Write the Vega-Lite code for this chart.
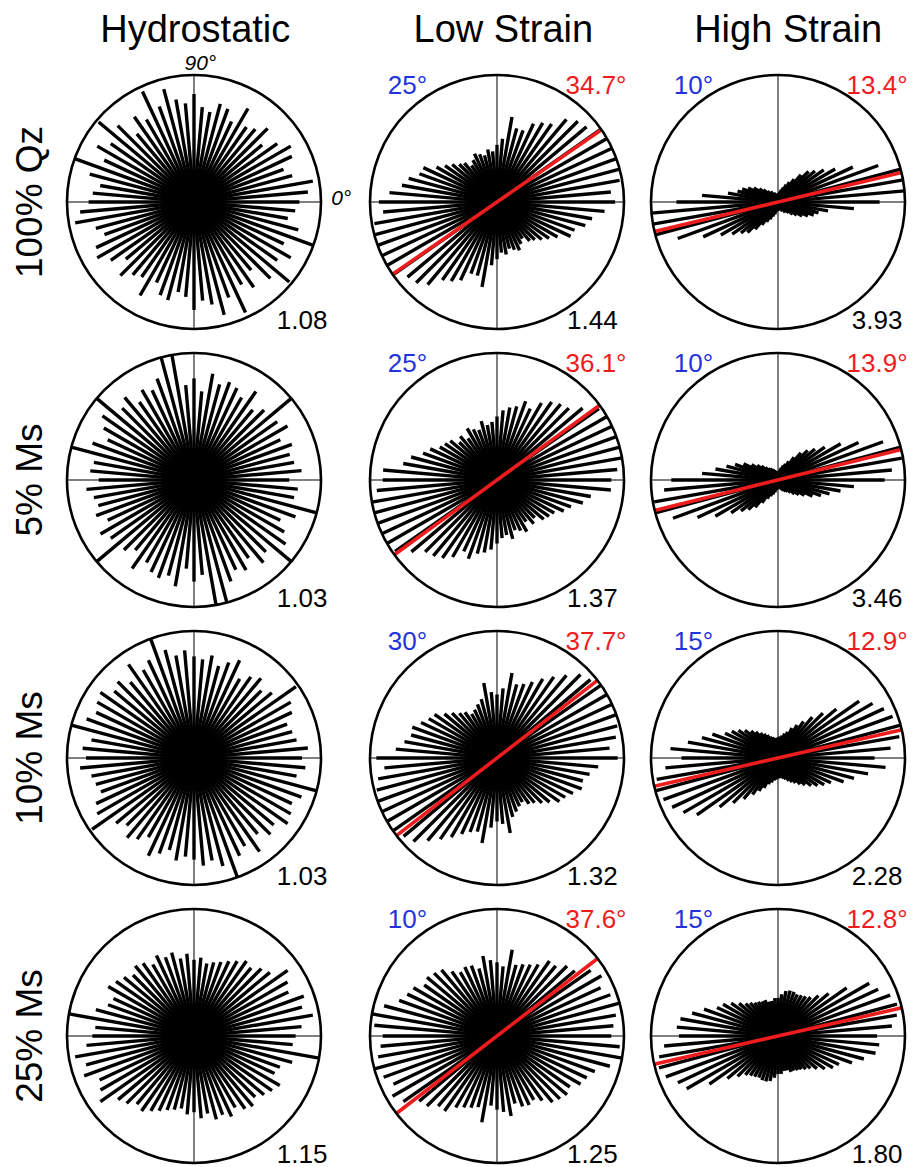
{
"$schema":"https://vega.github.io/schema/vega-lite/v6.json",
"padding":{"left":12,"top":12,"right":0,"bottom":0},
"background":"white",
"config":{"view":{"stroke":null},"font":"Liberation Sans"},
"data":{"values":[
{"col":"Hydrostatic","row":"100% Qz","k":"n","ratio":"1.08","t90":"90°","t0":"0°"},
{"col":"Hydrostatic","row":"5% Ms","k":"n","ratio":"1.03"},
{"col":"Hydrostatic","row":"10% Ms","k":"n","ratio":"1.03"},
{"col":"Hydrostatic","row":"25% Ms","k":"n","ratio":"1.15"},
{"col":"Low Strain","row":"100% Qz","k":"n","blue":"25°","red":"34.7°","mean":34.7,"ratio":"1.44"},
{"col":"Low Strain","row":"5% Ms","k":"n","blue":"25°","red":"36.1°","mean":36.1,"ratio":"1.37"},
{"col":"Low Strain","row":"10% Ms","k":"n","blue":"30°","red":"37.7°","mean":37.7,"ratio":"1.32"},
{"col":"Low Strain","row":"25% Ms","k":"n","blue":"10°","red":"37.6°","mean":37.6,"ratio":"1.25"},
{"col":"High Strain","row":"100% Qz","k":"n","blue":"10°","red":"13.4°","mean":13.4,"ratio":"3.93"},
{"col":"High Strain","row":"5% Ms","k":"n","blue":"10°","red":"13.9°","mean":13.9,"ratio":"3.46"},
{"col":"High Strain","row":"10% Ms","k":"n","blue":"15°","red":"12.9°","mean":12.9,"ratio":"2.28"},
{"col":"High Strain","row":"25% Ms","k":"n","blue":"15°","red":"12.8°","mean":12.8,"ratio":"1.80"},
{"col":"Hydrostatic","row":"100% Qz","k":"s","a":0,"l":0.83},{"col":"Hydrostatic","row":"100% Qz","k":"s","a":5,"l":0.9},{"col":"Hydrostatic","row":"100% Qz","k":"s","a":10,"l":0.95},{"col":"Hydrostatic","row":"100% Qz","k":"s","a":15,"l":0.8},{"col":"Hydrostatic","row":"100% Qz","k":"s","a":20,"l":0.75},{"col":"Hydrostatic","row":"100% Qz","k":"s","a":25,"l":0.85},{"col":"Hydrostatic","row":"100% Qz","k":"s","a":30,"l":0.88},{"col":"Hydrostatic","row":"100% Qz","k":"s","a":35,"l":0.8},{"col":"Hydrostatic","row":"100% Qz","k":"s","a":40,"l":0.7},{"col":"Hydrostatic","row":"100% Qz","k":"s","a":45,"l":0.82},{"col":"Hydrostatic","row":"100% Qz","k":"s","a":50,"l":0.75},{"col":"Hydrostatic","row":"100% Qz","k":"s","a":55,"l":0.72},{"col":"Hydrostatic","row":"100% Qz","k":"s","a":60,"l":0.85},{"col":"Hydrostatic","row":"100% Qz","k":"s","a":65,"l":0.7},{"col":"Hydrostatic","row":"100% Qz","k":"s","a":70,"l":0.78},{"col":"Hydrostatic","row":"100% Qz","k":"s","a":75,"l":0.8},{"col":"Hydrostatic","row":"100% Qz","k":"s","a":80,"l":0.72},{"col":"Hydrostatic","row":"100% Qz","k":"s","a":85,"l":0.75},{"col":"Hydrostatic","row":"100% Qz","k":"s","a":90,"l":0.85},{"col":"Hydrostatic","row":"100% Qz","k":"s","a":95,"l":0.78},{"col":"Hydrostatic","row":"100% Qz","k":"s","a":100,"l":0.82},{"col":"Hydrostatic","row":"100% Qz","k":"s","a":105,"l":0.92},{"col":"Hydrostatic","row":"100% Qz","k":"s","a":110,"l":0.8},{"col":"Hydrostatic","row":"100% Qz","k":"s","a":115,"l":0.96},{"col":"Hydrostatic","row":"100% Qz","k":"s","a":120,"l":0.75},{"col":"Hydrostatic","row":"100% Qz","k":"s","a":125,"l":0.82},{"col":"Hydrostatic","row":"100% Qz","k":"s","a":130,"l":0.7},{"col":"Hydrostatic","row":"100% Qz","k":"s","a":135,"l":0.85},{"col":"Hydrostatic","row":"100% Qz","k":"s","a":140,"l":0.98},{"col":"Hydrostatic","row":"100% Qz","k":"s","a":145,"l":0.8},{"col":"Hydrostatic","row":"100% Qz","k":"s","a":150,"l":0.88},{"col":"Hydrostatic","row":"100% Qz","k":"s","a":155,"l":0.78},{"col":"Hydrostatic","row":"100% Qz","k":"s","a":160,"l":1.0},{"col":"Hydrostatic","row":"100% Qz","k":"s","a":165,"l":0.85},{"col":"Hydrostatic","row":"100% Qz","k":"s","a":170,"l":0.75},{"col":"Hydrostatic","row":"100% Qz","k":"s","a":175,"l":0.8},
{"col":"Hydrostatic","row":"5% Ms","k":"s","a":0,"l":0.75},{"col":"Hydrostatic","row":"5% Ms","k":"s","a":5,"l":0.85},{"col":"Hydrostatic","row":"5% Ms","k":"s","a":10,"l":0.8},{"col":"Hydrostatic","row":"5% Ms","k":"s","a":15,"l":0.78},{"col":"Hydrostatic","row":"5% Ms","k":"s","a":20,"l":0.82},{"col":"Hydrostatic","row":"5% Ms","k":"s","a":25,"l":0.75},{"col":"Hydrostatic","row":"5% Ms","k":"s","a":30,"l":0.85},{"col":"Hydrostatic","row":"5% Ms","k":"s","a":35,"l":0.8},{"col":"Hydrostatic","row":"5% Ms","k":"s","a":40,"l":1.0},{"col":"Hydrostatic","row":"5% Ms","k":"s","a":45,"l":0.78},{"col":"Hydrostatic","row":"5% Ms","k":"s","a":50,"l":0.72},{"col":"Hydrostatic","row":"5% Ms","k":"s","a":55,"l":0.85},{"col":"Hydrostatic","row":"5% Ms","k":"s","a":60,"l":0.75},{"col":"Hydrostatic","row":"5% Ms","k":"s","a":65,"l":0.8},{"col":"Hydrostatic","row":"5% Ms","k":"s","a":70,"l":0.82},{"col":"Hydrostatic","row":"5% Ms","k":"s","a":75,"l":0.78},{"col":"Hydrostatic","row":"5% Ms","k":"s","a":80,"l":0.85},{"col":"Hydrostatic","row":"5% Ms","k":"s","a":85,"l":0.7},{"col":"Hydrostatic","row":"5% Ms","k":"s","a":90,"l":0.8},{"col":"Hydrostatic","row":"5% Ms","k":"s","a":95,"l":0.75},{"col":"Hydrostatic","row":"5% Ms","k":"s","a":100,"l":1.0},{"col":"Hydrostatic","row":"5% Ms","k":"s","a":105,"l":1.0},{"col":"Hydrostatic","row":"5% Ms","k":"s","a":110,"l":0.85},{"col":"Hydrostatic","row":"5% Ms","k":"s","a":115,"l":0.78},{"col":"Hydrostatic","row":"5% Ms","k":"s","a":120,"l":0.82},{"col":"Hydrostatic","row":"5% Ms","k":"s","a":125,"l":0.75},{"col":"Hydrostatic","row":"5% Ms","k":"s","a":130,"l":0.85},{"col":"Hydrostatic","row":"5% Ms","k":"s","a":135,"l":0.8},{"col":"Hydrostatic","row":"5% Ms","k":"s","a":140,"l":1.0},{"col":"Hydrostatic","row":"5% Ms","k":"s","a":145,"l":0.88},{"col":"Hydrostatic","row":"5% Ms","k":"s","a":150,"l":0.82},{"col":"Hydrostatic","row":"5% Ms","k":"s","a":155,"l":0.75},{"col":"Hydrostatic","row":"5% Ms","k":"s","a":160,"l":0.85},{"col":"Hydrostatic","row":"5% Ms","k":"s","a":165,"l":1.0},{"col":"Hydrostatic","row":"5% Ms","k":"s","a":170,"l":0.8},{"col":"Hydrostatic","row":"5% Ms","k":"s","a":175,"l":0.82},
{"col":"Hydrostatic","row":"10% Ms","k":"s","a":0,"l":0.85},{"col":"Hydrostatic","row":"10% Ms","k":"s","a":5,"l":0.9},{"col":"Hydrostatic","row":"10% Ms","k":"s","a":10,"l":0.82},{"col":"Hydrostatic","row":"10% Ms","k":"s","a":15,"l":0.8},{"col":"Hydrostatic","row":"10% Ms","k":"s","a":20,"l":0.78},{"col":"Hydrostatic","row":"10% Ms","k":"s","a":25,"l":0.85},{"col":"Hydrostatic","row":"10% Ms","k":"s","a":30,"l":0.88},{"col":"Hydrostatic","row":"10% Ms","k":"s","a":35,"l":0.98},{"col":"Hydrostatic","row":"10% Ms","k":"s","a":40,"l":0.8},{"col":"Hydrostatic","row":"10% Ms","k":"s","a":45,"l":0.75},{"col":"Hydrostatic","row":"10% Ms","k":"s","a":50,"l":0.82},{"col":"Hydrostatic","row":"10% Ms","k":"s","a":55,"l":0.78},{"col":"Hydrostatic","row":"10% Ms","k":"s","a":60,"l":0.72},{"col":"Hydrostatic","row":"10% Ms","k":"s","a":65,"l":0.85},{"col":"Hydrostatic","row":"10% Ms","k":"s","a":70,"l":0.8},{"col":"Hydrostatic","row":"10% Ms","k":"s","a":75,"l":0.75},{"col":"Hydrostatic","row":"10% Ms","k":"s","a":80,"l":0.82},{"col":"Hydrostatic","row":"10% Ms","k":"s","a":85,"l":0.78},{"col":"Hydrostatic","row":"10% Ms","k":"s","a":90,"l":0.8},{"col":"Hydrostatic","row":"10% Ms","k":"s","a":95,"l":0.85},{"col":"Hydrostatic","row":"10% Ms","k":"s","a":100,"l":0.82},{"col":"Hydrostatic","row":"10% Ms","k":"s","a":105,"l":0.88},{"col":"Hydrostatic","row":"10% Ms","k":"s","a":110,"l":1.0},{"col":"Hydrostatic","row":"10% Ms","k":"s","a":115,"l":0.85},{"col":"Hydrostatic","row":"10% Ms","k":"s","a":120,"l":0.8},{"col":"Hydrostatic","row":"10% Ms","k":"s","a":125,"l":0.9},{"col":"Hydrostatic","row":"10% Ms","k":"s","a":130,"l":0.78},{"col":"Hydrostatic","row":"10% Ms","k":"s","a":135,"l":0.85},{"col":"Hydrostatic","row":"10% Ms","k":"s","a":140,"l":0.82},{"col":"Hydrostatic","row":"10% Ms","k":"s","a":145,"l":0.9},{"col":"Hydrostatic","row":"10% Ms","k":"s","a":150,"l":0.88},{"col":"Hydrostatic","row":"10% Ms","k":"s","a":155,"l":0.85},{"col":"Hydrostatic","row":"10% Ms","k":"s","a":160,"l":0.9},{"col":"Hydrostatic","row":"10% Ms","k":"s","a":165,"l":1.0},{"col":"Hydrostatic","row":"10% Ms","k":"s","a":170,"l":0.82},{"col":"Hydrostatic","row":"10% Ms","k":"s","a":175,"l":0.88},
{"col":"Hydrostatic","row":"25% Ms","k":"s","a":0,"l":0.8},{"col":"Hydrostatic","row":"25% Ms","k":"s","a":5,"l":0.85},{"col":"Hydrostatic","row":"25% Ms","k":"s","a":10,"l":0.95},{"col":"Hydrostatic","row":"25% Ms","k":"s","a":15,"l":0.88},{"col":"Hydrostatic","row":"25% Ms","k":"s","a":20,"l":0.92},{"col":"Hydrostatic","row":"25% Ms","k":"s","a":25,"l":0.82},{"col":"Hydrostatic","row":"25% Ms","k":"s","a":30,"l":0.85},{"col":"Hydrostatic","row":"25% Ms","k":"s","a":35,"l":0.9},{"col":"Hydrostatic","row":"25% Ms","k":"s","a":40,"l":0.78},{"col":"Hydrostatic","row":"25% Ms","k":"s","a":45,"l":0.75},{"col":"Hydrostatic","row":"25% Ms","k":"s","a":50,"l":0.7},{"col":"Hydrostatic","row":"25% Ms","k":"s","a":55,"l":0.72},{"col":"Hydrostatic","row":"25% Ms","k":"s","a":60,"l":0.68},{"col":"Hydrostatic","row":"25% Ms","k":"s","a":65,"l":0.65},{"col":"Hydrostatic","row":"25% Ms","k":"s","a":70,"l":0.62},{"col":"Hydrostatic","row":"25% Ms","k":"s","a":75,"l":0.6},{"col":"Hydrostatic","row":"25% Ms","k":"s","a":80,"l":0.58},{"col":"Hydrostatic","row":"25% Ms","k":"s","a":85,"l":0.62},{"col":"Hydrostatic","row":"25% Ms","k":"s","a":90,"l":0.6},{"col":"Hydrostatic","row":"25% Ms","k":"s","a":95,"l":0.65},{"col":"Hydrostatic","row":"25% Ms","k":"s","a":100,"l":0.62},{"col":"Hydrostatic","row":"25% Ms","k":"s","a":105,"l":0.68},{"col":"Hydrostatic","row":"25% Ms","k":"s","a":110,"l":0.66},{"col":"Hydrostatic","row":"25% Ms","k":"s","a":115,"l":0.7},{"col":"Hydrostatic","row":"25% Ms","k":"s","a":120,"l":0.65},{"col":"Hydrostatic","row":"25% Ms","k":"s","a":125,"l":0.7},{"col":"Hydrostatic","row":"25% Ms","k":"s","a":130,"l":0.72},{"col":"Hydrostatic","row":"25% Ms","k":"s","a":135,"l":0.68},{"col":"Hydrostatic","row":"25% Ms","k":"s","a":140,"l":0.72},{"col":"Hydrostatic","row":"25% Ms","k":"s","a":145,"l":0.75},{"col":"Hydrostatic","row":"25% Ms","k":"s","a":150,"l":0.78},{"col":"Hydrostatic","row":"25% Ms","k":"s","a":155,"l":0.7},{"col":"Hydrostatic","row":"25% Ms","k":"s","a":160,"l":0.72},{"col":"Hydrostatic","row":"25% Ms","k":"s","a":165,"l":0.8},{"col":"Hydrostatic","row":"25% Ms","k":"s","a":170,"l":1.0},{"col":"Hydrostatic","row":"25% Ms","k":"s","a":175,"l":0.78},
{"col":"Low Strain","row":"100% Qz","k":"s","a":0,"l":0.93},{"col":"Low Strain","row":"100% Qz","k":"s","a":5,"l":0.9},{"col":"Low Strain","row":"100% Qz","k":"s","a":10,"l":0.98},{"col":"Low Strain","row":"100% Qz","k":"s","a":15,"l":1.0},{"col":"Low Strain","row":"100% Qz","k":"s","a":20,"l":1.0},{"col":"Low Strain","row":"100% Qz","k":"s","a":25,"l":1.0},{"col":"Low Strain","row":"100% Qz","k":"s","a":30,"l":1.0},{"col":"Low Strain","row":"100% Qz","k":"s","a":35,"l":1.0},{"col":"Low Strain","row":"100% Qz","k":"s","a":40,"l":0.92},{"col":"Low Strain","row":"100% Qz","k":"s","a":45,"l":0.9},{"col":"Low Strain","row":"100% Qz","k":"s","a":50,"l":0.85},{"col":"Low Strain","row":"100% Qz","k":"s","a":55,"l":0.75},{"col":"Low Strain","row":"100% Qz","k":"s","a":60,"l":0.72},{"col":"Low Strain","row":"100% Qz","k":"s","a":65,"l":0.68},{"col":"Low Strain","row":"100% Qz","k":"s","a":70,"l":0.6},{"col":"Low Strain","row":"100% Qz","k":"s","a":75,"l":0.6},{"col":"Low Strain","row":"100% Qz","k":"s","a":80,"l":0.68},{"col":"Low Strain","row":"100% Qz","k":"s","a":85,"l":0.5},{"col":"Low Strain","row":"100% Qz","k":"s","a":90,"l":0.45},{"col":"Low Strain","row":"100% Qz","k":"s","a":95,"l":0.4},{"col":"Low Strain","row":"100% Qz","k":"s","a":100,"l":0.42},{"col":"Low Strain","row":"100% Qz","k":"s","a":105,"l":0.38},{"col":"Low Strain","row":"100% Qz","k":"s","a":110,"l":0.4},{"col":"Low Strain","row":"100% Qz","k":"s","a":115,"l":0.42},{"col":"Low Strain","row":"100% Qz","k":"s","a":120,"l":0.38},{"col":"Low Strain","row":"100% Qz","k":"s","a":125,"l":0.35},{"col":"Low Strain","row":"100% Qz","k":"s","a":130,"l":0.4},{"col":"Low Strain","row":"100% Qz","k":"s","a":135,"l":0.42},{"col":"Low Strain","row":"100% Qz","k":"s","a":140,"l":0.46},{"col":"Low Strain","row":"100% Qz","k":"s","a":145,"l":0.5},{"col":"Low Strain","row":"100% Qz","k":"s","a":150,"l":0.55},{"col":"Low Strain","row":"100% Qz","k":"s","a":155,"l":0.64},{"col":"Low Strain","row":"100% Qz","k":"s","a":160,"l":0.65},{"col":"Low Strain","row":"100% Qz","k":"s","a":165,"l":0.72},{"col":"Low Strain","row":"100% Qz","k":"s","a":170,"l":0.76},{"col":"Low Strain","row":"100% Qz","k":"s","a":175,"l":0.85},
{"col":"Low Strain","row":"5% Ms","k":"s","a":0,"l":0.9},{"col":"Low Strain","row":"5% Ms","k":"s","a":5,"l":0.95},{"col":"Low Strain","row":"5% Ms","k":"s","a":10,"l":1.0},{"col":"Low Strain","row":"5% Ms","k":"s","a":15,"l":1.0},{"col":"Low Strain","row":"5% Ms","k":"s","a":20,"l":1.0},{"col":"Low Strain","row":"5% Ms","k":"s","a":25,"l":1.0},{"col":"Low Strain","row":"5% Ms","k":"s","a":30,"l":1.0},{"col":"Low Strain","row":"5% Ms","k":"s","a":35,"l":0.98},{"col":"Low Strain","row":"5% Ms","k":"s","a":40,"l":0.88},{"col":"Low Strain","row":"5% Ms","k":"s","a":45,"l":0.8},{"col":"Low Strain","row":"5% Ms","k":"s","a":50,"l":0.78},{"col":"Low Strain","row":"5% Ms","k":"s","a":55,"l":0.75},{"col":"Low Strain","row":"5% Ms","k":"s","a":60,"l":0.7},{"col":"Low Strain","row":"5% Ms","k":"s","a":65,"l":0.62},{"col":"Low Strain","row":"5% Ms","k":"s","a":70,"l":0.66},{"col":"Low Strain","row":"5% Ms","k":"s","a":75,"l":0.6},{"col":"Low Strain","row":"5% Ms","k":"s","a":80,"l":0.58},{"col":"Low Strain","row":"5% Ms","k":"s","a":85,"l":0.55},{"col":"Low Strain","row":"5% Ms","k":"s","a":90,"l":0.5},{"col":"Low Strain","row":"5% Ms","k":"s","a":95,"l":0.46},{"col":"Low Strain","row":"5% Ms","k":"s","a":100,"l":0.44},{"col":"Low Strain","row":"5% Ms","k":"s","a":105,"l":0.48},{"col":"Low Strain","row":"5% Ms","k":"s","a":110,"l":0.42},{"col":"Low Strain","row":"5% Ms","k":"s","a":115,"l":0.44},{"col":"Low Strain","row":"5% Ms","k":"s","a":120,"l":0.47},{"col":"Low Strain","row":"5% Ms","k":"s","a":125,"l":0.4},{"col":"Low Strain","row":"5% Ms","k":"s","a":130,"l":0.45},{"col":"Low Strain","row":"5% Ms","k":"s","a":135,"l":0.42},{"col":"Low Strain","row":"5% Ms","k":"s","a":140,"l":0.48},{"col":"Low Strain","row":"5% Ms","k":"s","a":145,"l":0.5},{"col":"Low Strain","row":"5% Ms","k":"s","a":150,"l":0.52},{"col":"Low Strain","row":"5% Ms","k":"s","a":155,"l":0.58},{"col":"Low Strain","row":"5% Ms","k":"s","a":160,"l":0.62},{"col":"Low Strain","row":"5% Ms","k":"s","a":165,"l":0.7},{"col":"Low Strain","row":"5% Ms","k":"s","a":170,"l":0.75},{"col":"Low Strain","row":"5% Ms","k":"s","a":175,"l":0.9},
{"col":"Low Strain","row":"10% Ms","k":"s","a":0,"l":0.95},{"col":"Low Strain","row":"10% Ms","k":"s","a":5,"l":0.89},{"col":"Low Strain","row":"10% Ms","k":"s","a":10,"l":0.95},{"col":"Low Strain","row":"10% Ms","k":"s","a":15,"l":0.98},{"col":"Low Strain","row":"10% Ms","k":"s","a":20,"l":1.0},{"col":"Low Strain","row":"10% Ms","k":"s","a":25,"l":1.0},{"col":"Low Strain","row":"10% Ms","k":"s","a":30,"l":1.0},{"col":"Low Strain","row":"10% Ms","k":"s","a":35,"l":1.0},{"col":"Low Strain","row":"10% Ms","k":"s","a":40,"l":0.96},{"col":"Low Strain","row":"10% Ms","k":"s","a":45,"l":0.93},{"col":"Low Strain","row":"10% Ms","k":"s","a":50,"l":0.85},{"col":"Low Strain","row":"10% Ms","k":"s","a":55,"l":0.78},{"col":"Low Strain","row":"10% Ms","k":"s","a":60,"l":0.72},{"col":"Low Strain","row":"10% Ms","k":"s","a":65,"l":0.66},{"col":"Low Strain","row":"10% Ms","k":"s","a":70,"l":0.62},{"col":"Low Strain","row":"10% Ms","k":"s","a":75,"l":0.6},{"col":"Low Strain","row":"10% Ms","k":"s","a":80,"l":0.68},{"col":"Low Strain","row":"10% Ms","k":"s","a":85,"l":0.55},{"col":"Low Strain","row":"10% Ms","k":"s","a":90,"l":0.5},{"col":"Low Strain","row":"10% Ms","k":"s","a":95,"l":0.52},{"col":"Low Strain","row":"10% Ms","k":"s","a":100,"l":0.6},{"col":"Low Strain","row":"10% Ms","k":"s","a":105,"l":0.48},{"col":"Low Strain","row":"10% Ms","k":"s","a":110,"l":0.45},{"col":"Low Strain","row":"10% Ms","k":"s","a":115,"l":0.42},{"col":"Low Strain","row":"10% Ms","k":"s","a":120,"l":0.4},{"col":"Low Strain","row":"10% Ms","k":"s","a":125,"l":0.44},{"col":"Low Strain","row":"10% Ms","k":"s","a":130,"l":0.46},{"col":"Low Strain","row":"10% Ms","k":"s","a":135,"l":0.5},{"col":"Low Strain","row":"10% Ms","k":"s","a":140,"l":0.54},{"col":"Low Strain","row":"10% Ms","k":"s","a":145,"l":0.6},{"col":"Low Strain","row":"10% Ms","k":"s","a":150,"l":0.62},{"col":"Low Strain","row":"10% Ms","k":"s","a":155,"l":0.66},{"col":"Low Strain","row":"10% Ms","k":"s","a":160,"l":0.71},{"col":"Low Strain","row":"10% Ms","k":"s","a":165,"l":0.7},{"col":"Low Strain","row":"10% Ms","k":"s","a":170,"l":0.74},{"col":"Low Strain","row":"10% Ms","k":"s","a":175,"l":0.8},
{"col":"Low Strain","row":"25% Ms","k":"s","a":0,"l":0.9},{"col":"Low Strain","row":"25% Ms","k":"s","a":5,"l":0.92},{"col":"Low Strain","row":"25% Ms","k":"s","a":10,"l":0.95},{"col":"Low Strain","row":"25% Ms","k":"s","a":15,"l":1.0},{"col":"Low Strain","row":"25% Ms","k":"s","a":20,"l":0.95},{"col":"Low Strain","row":"25% Ms","k":"s","a":25,"l":0.9},{"col":"Low Strain","row":"25% Ms","k":"s","a":30,"l":0.95},{"col":"Low Strain","row":"25% Ms","k":"s","a":35,"l":0.9},{"col":"Low Strain","row":"25% Ms","k":"s","a":40,"l":0.8},{"col":"Low Strain","row":"25% Ms","k":"s","a":45,"l":0.78},{"col":"Low Strain","row":"25% Ms","k":"s","a":50,"l":0.72},{"col":"Low Strain","row":"25% Ms","k":"s","a":55,"l":0.72},{"col":"Low Strain","row":"25% Ms","k":"s","a":60,"l":0.65},{"col":"Low Strain","row":"25% Ms","k":"s","a":65,"l":0.62},{"col":"Low Strain","row":"25% Ms","k":"s","a":70,"l":0.6},{"col":"Low Strain","row":"25% Ms","k":"s","a":75,"l":0.58},{"col":"Low Strain","row":"25% Ms","k":"s","a":80,"l":0.69},{"col":"Low Strain","row":"25% Ms","k":"s","a":85,"l":0.55},{"col":"Low Strain","row":"25% Ms","k":"s","a":90,"l":0.58},{"col":"Low Strain","row":"25% Ms","k":"s","a":95,"l":0.6},{"col":"Low Strain","row":"25% Ms","k":"s","a":100,"l":0.64},{"col":"Low Strain","row":"25% Ms","k":"s","a":105,"l":0.55},{"col":"Low Strain","row":"25% Ms","k":"s","a":110,"l":0.59},{"col":"Low Strain","row":"25% Ms","k":"s","a":115,"l":0.6},{"col":"Low Strain","row":"25% Ms","k":"s","a":120,"l":0.58},{"col":"Low Strain","row":"25% Ms","k":"s","a":125,"l":0.62},{"col":"Low Strain","row":"25% Ms","k":"s","a":130,"l":0.68},{"col":"Low Strain","row":"25% Ms","k":"s","a":135,"l":0.7},{"col":"Low Strain","row":"25% Ms","k":"s","a":140,"l":0.72},{"col":"Low Strain","row":"25% Ms","k":"s","a":145,"l":0.7},{"col":"Low Strain","row":"25% Ms","k":"s","a":150,"l":0.76},{"col":"Low Strain","row":"25% Ms","k":"s","a":155,"l":0.78},{"col":"Low Strain","row":"25% Ms","k":"s","a":160,"l":0.82},{"col":"Low Strain","row":"25% Ms","k":"s","a":165,"l":0.92},{"col":"Low Strain","row":"25% Ms","k":"s","a":170,"l":1.0},{"col":"Low Strain","row":"25% Ms","k":"s","a":175,"l":0.97},
{"col":"High Strain","row":"100% Qz","k":"s","a":0,"l":0.8},{"col":"High Strain","row":"100% Qz","k":"s","a":5,"l":1.0},{"col":"High Strain","row":"100% Qz","k":"s","a":10,"l":1.0},{"col":"High Strain","row":"100% Qz","k":"s","a":15,"l":1.0},{"col":"High Strain","row":"100% Qz","k":"s","a":20,"l":0.84},{"col":"High Strain","row":"100% Qz","k":"s","a":25,"l":0.65},{"col":"High Strain","row":"100% Qz","k":"s","a":30,"l":0.52},{"col":"High Strain","row":"100% Qz","k":"s","a":35,"l":0.44},{"col":"High Strain","row":"100% Qz","k":"s","a":40,"l":0.38},{"col":"High Strain","row":"100% Qz","k":"s","a":45,"l":0.34},{"col":"High Strain","row":"100% Qz","k":"s","a":50,"l":0.28},{"col":"High Strain","row":"100% Qz","k":"s","a":55,"l":0.22},{"col":"High Strain","row":"100% Qz","k":"s","a":60,"l":0.18},{"col":"High Strain","row":"100% Qz","k":"s","a":65,"l":0.15},{"col":"High Strain","row":"100% Qz","k":"s","a":70,"l":0.12},{"col":"High Strain","row":"100% Qz","k":"s","a":75,"l":0.1},{"col":"High Strain","row":"100% Qz","k":"s","a":80,"l":0.08},{"col":"High Strain","row":"100% Qz","k":"s","a":85,"l":0.07},{"col":"High Strain","row":"100% Qz","k":"s","a":90,"l":0.06},{"col":"High Strain","row":"100% Qz","k":"s","a":95,"l":0.05},{"col":"High Strain","row":"100% Qz","k":"s","a":100,"l":0.06},{"col":"High Strain","row":"100% Qz","k":"s","a":105,"l":0.06},{"col":"High Strain","row":"100% Qz","k":"s","a":110,"l":0.07},{"col":"High Strain","row":"100% Qz","k":"s","a":115,"l":0.08},{"col":"High Strain","row":"100% Qz","k":"s","a":120,"l":0.08},{"col":"High Strain","row":"100% Qz","k":"s","a":125,"l":0.1},{"col":"High Strain","row":"100% Qz","k":"s","a":130,"l":0.1},{"col":"High Strain","row":"100% Qz","k":"s","a":135,"l":0.12},{"col":"High Strain","row":"100% Qz","k":"s","a":140,"l":0.15},{"col":"High Strain","row":"100% Qz","k":"s","a":145,"l":0.18},{"col":"High Strain","row":"100% Qz","k":"s","a":150,"l":0.22},{"col":"High Strain","row":"100% Qz","k":"s","a":155,"l":0.26},{"col":"High Strain","row":"100% Qz","k":"s","a":160,"l":0.3},{"col":"High Strain","row":"100% Qz","k":"s","a":165,"l":0.33},{"col":"High Strain","row":"100% Qz","k":"s","a":170,"l":0.4},{"col":"High Strain","row":"100% Qz","k":"s","a":175,"l":0.6},
{"col":"High Strain","row":"5% Ms","k":"s","a":0,"l":0.84},{"col":"High Strain","row":"5% Ms","k":"s","a":5,"l":0.9},{"col":"High Strain","row":"5% Ms","k":"s","a":10,"l":0.99},{"col":"High Strain","row":"5% Ms","k":"s","a":15,"l":1.0},{"col":"High Strain","row":"5% Ms","k":"s","a":20,"l":0.88},{"col":"High Strain","row":"5% Ms","k":"s","a":25,"l":0.7},{"col":"High Strain","row":"5% Ms","k":"s","a":30,"l":0.57},{"col":"High Strain","row":"5% Ms","k":"s","a":35,"l":0.45},{"col":"High Strain","row":"5% Ms","k":"s","a":40,"l":0.38},{"col":"High Strain","row":"5% Ms","k":"s","a":45,"l":0.33},{"col":"High Strain","row":"5% Ms","k":"s","a":50,"l":0.28},{"col":"High Strain","row":"5% Ms","k":"s","a":55,"l":0.22},{"col":"High Strain","row":"5% Ms","k":"s","a":60,"l":0.17},{"col":"High Strain","row":"5% Ms","k":"s","a":65,"l":0.14},{"col":"High Strain","row":"5% Ms","k":"s","a":70,"l":0.12},{"col":"High Strain","row":"5% Ms","k":"s","a":75,"l":0.1},{"col":"High Strain","row":"5% Ms","k":"s","a":80,"l":0.08},{"col":"High Strain","row":"5% Ms","k":"s","a":85,"l":0.07},{"col":"High Strain","row":"5% Ms","k":"s","a":90,"l":0.07},{"col":"High Strain","row":"5% Ms","k":"s","a":95,"l":0.06},{"col":"High Strain","row":"5% Ms","k":"s","a":100,"l":0.07},{"col":"High Strain","row":"5% Ms","k":"s","a":105,"l":0.07},{"col":"High Strain","row":"5% Ms","k":"s","a":110,"l":0.08},{"col":"High Strain","row":"5% Ms","k":"s","a":115,"l":0.09},{"col":"High Strain","row":"5% Ms","k":"s","a":120,"l":0.1},{"col":"High Strain","row":"5% Ms","k":"s","a":125,"l":0.11},{"col":"High Strain","row":"5% Ms","k":"s","a":130,"l":0.12},{"col":"High Strain","row":"5% Ms","k":"s","a":135,"l":0.14},{"col":"High Strain","row":"5% Ms","k":"s","a":140,"l":0.17},{"col":"High Strain","row":"5% Ms","k":"s","a":145,"l":0.2},{"col":"High Strain","row":"5% Ms","k":"s","a":150,"l":0.24},{"col":"High Strain","row":"5% Ms","k":"s","a":155,"l":0.3},{"col":"High Strain","row":"5% Ms","k":"s","a":160,"l":0.36},{"col":"High Strain","row":"5% Ms","k":"s","a":165,"l":0.42},{"col":"High Strain","row":"5% Ms","k":"s","a":170,"l":0.5},{"col":"High Strain","row":"5% Ms","k":"s","a":175,"l":0.6},
{"col":"High Strain","row":"10% Ms","k":"s","a":0,"l":0.76},{"col":"High Strain","row":"10% Ms","k":"s","a":5,"l":0.89},{"col":"High Strain","row":"10% Ms","k":"s","a":10,"l":0.97},{"col":"High Strain","row":"10% Ms","k":"s","a":15,"l":1.0},{"col":"High Strain","row":"10% Ms","k":"s","a":20,"l":0.96},{"col":"High Strain","row":"10% Ms","k":"s","a":25,"l":0.92},{"col":"High Strain","row":"10% Ms","k":"s","a":30,"l":0.86},{"col":"High Strain","row":"10% Ms","k":"s","a":35,"l":0.78},{"col":"High Strain","row":"10% Ms","k":"s","a":40,"l":0.6},{"col":"High Strain","row":"10% Ms","k":"s","a":45,"l":0.5},{"col":"High Strain","row":"10% Ms","k":"s","a":50,"l":0.42},{"col":"High Strain","row":"10% Ms","k":"s","a":55,"l":0.35},{"col":"High Strain","row":"10% Ms","k":"s","a":60,"l":0.3},{"col":"High Strain","row":"10% Ms","k":"s","a":65,"l":0.26},{"col":"High Strain","row":"10% Ms","k":"s","a":70,"l":0.22},{"col":"High Strain","row":"10% Ms","k":"s","a":75,"l":0.2},{"col":"High Strain","row":"10% Ms","k":"s","a":80,"l":0.18},{"col":"High Strain","row":"10% Ms","k":"s","a":85,"l":0.17},{"col":"High Strain","row":"10% Ms","k":"s","a":90,"l":0.16},{"col":"High Strain","row":"10% Ms","k":"s","a":95,"l":0.16},{"col":"High Strain","row":"10% Ms","k":"s","a":100,"l":0.16},{"col":"High Strain","row":"10% Ms","k":"s","a":105,"l":0.17},{"col":"High Strain","row":"10% Ms","k":"s","a":110,"l":0.18},{"col":"High Strain","row":"10% Ms","k":"s","a":115,"l":0.2},{"col":"High Strain","row":"10% Ms","k":"s","a":120,"l":0.22},{"col":"High Strain","row":"10% Ms","k":"s","a":125,"l":0.24},{"col":"High Strain","row":"10% Ms","k":"s","a":130,"l":0.27},{"col":"High Strain","row":"10% Ms","k":"s","a":135,"l":0.3},{"col":"High Strain","row":"10% Ms","k":"s","a":140,"l":0.34},{"col":"High Strain","row":"10% Ms","k":"s","a":145,"l":0.38},{"col":"High Strain","row":"10% Ms","k":"s","a":150,"l":0.42},{"col":"High Strain","row":"10% Ms","k":"s","a":155,"l":0.46},{"col":"High Strain","row":"10% Ms","k":"s","a":160,"l":0.55},{"col":"High Strain","row":"10% Ms","k":"s","a":165,"l":0.62},{"col":"High Strain","row":"10% Ms","k":"s","a":170,"l":0.72},{"col":"High Strain","row":"10% Ms","k":"s","a":175,"l":0.85},
{"col":"High Strain","row":"25% Ms","k":"s","a":0,"l":0.78},{"col":"High Strain","row":"25% Ms","k":"s","a":5,"l":0.9},{"col":"High Strain","row":"25% Ms","k":"s","a":10,"l":0.95},{"col":"High Strain","row":"25% Ms","k":"s","a":15,"l":0.97},{"col":"High Strain","row":"25% Ms","k":"s","a":20,"l":0.94},{"col":"High Strain","row":"25% Ms","k":"s","a":25,"l":0.87},{"col":"High Strain","row":"25% Ms","k":"s","a":30,"l":0.83},{"col":"High Strain","row":"25% Ms","k":"s","a":35,"l":0.66},{"col":"High Strain","row":"25% Ms","k":"s","a":40,"l":0.52},{"col":"High Strain","row":"25% Ms","k":"s","a":45,"l":0.45},{"col":"High Strain","row":"25% Ms","k":"s","a":50,"l":0.4},{"col":"High Strain","row":"25% Ms","k":"s","a":55,"l":0.38},{"col":"High Strain","row":"25% Ms","k":"s","a":60,"l":0.37},{"col":"High Strain","row":"25% Ms","k":"s","a":65,"l":0.36},{"col":"High Strain","row":"25% Ms","k":"s","a":70,"l":0.37},{"col":"High Strain","row":"25% Ms","k":"s","a":75,"l":0.37},{"col":"High Strain","row":"25% Ms","k":"s","a":80,"l":0.36},{"col":"High Strain","row":"25% Ms","k":"s","a":85,"l":0.33},{"col":"High Strain","row":"25% Ms","k":"s","a":90,"l":0.3},{"col":"High Strain","row":"25% Ms","k":"s","a":95,"l":0.3},{"col":"High Strain","row":"25% Ms","k":"s","a":100,"l":0.28},{"col":"High Strain","row":"25% Ms","k":"s","a":105,"l":0.28},{"col":"High Strain","row":"25% Ms","k":"s","a":110,"l":0.3},{"col":"High Strain","row":"25% Ms","k":"s","a":115,"l":0.3},{"col":"High Strain","row":"25% Ms","k":"s","a":120,"l":0.31},{"col":"High Strain","row":"25% Ms","k":"s","a":125,"l":0.32},{"col":"High Strain","row":"25% Ms","k":"s","a":130,"l":0.34},{"col":"High Strain","row":"25% Ms","k":"s","a":135,"l":0.36},{"col":"High Strain","row":"25% Ms","k":"s","a":140,"l":0.4},{"col":"High Strain","row":"25% Ms","k":"s","a":145,"l":0.45},{"col":"High Strain","row":"25% Ms","k":"s","a":150,"l":0.5},{"col":"High Strain","row":"25% Ms","k":"s","a":155,"l":0.53},{"col":"High Strain","row":"25% Ms","k":"s","a":160,"l":0.62},{"col":"High Strain","row":"25% Ms","k":"s","a":165,"l":0.7},{"col":"High Strain","row":"25% Ms","k":"s","a":170,"l":0.78},{"col":"High Strain","row":"25% Ms","k":"s","a":175,"l":0.8}
]},
"resolve":{"scale":{"x":"independent","y":"independent"}},
"spacing":7,
"hconcat":[
{
"transform":[{"filter":"datum.col === 'Hydrostatic'"}],
"facet":{"row":{"field":"row","type":"nominal","title":null,"sort":["100% Qz","5% Ms","10% Ms","25% Ms"],"header":{"labels":false}}},
"bounds":"flush",
"spacing":{"row":24},
"spec":{
 "width":290,"height":254,
 "encoding":{
  "x":{"datum":0,"type":"quantitative","scale":{"domain":[-1,1.2835],"nice":false,"zero":false},"axis":null},
  "y":{"datum":0,"type":"quantitative","scale":{"domain":[-1,1],"nice":false,"zero":false},"axis":null}
 },
 "layer":[
  {"transform":[{"filter":"datum.k === 'n'"}],"mark":{"type":"rule","stroke":"black","strokeWidth":1},"encoding":{"y":{"datum":-1,"type":"quantitative"},"y2":{"datum":1}}},
  {"transform":[{"filter":"datum.k === 'n'"}],"mark":{"type":"rule","stroke":"black","strokeWidth":1},"encoding":{"x":{"datum":-1,"type":"quantitative"},"x2":{"datum":1}}},
  {"transform":[{"filter":"datum.k === 's'"}],"mark":{"type":"point","shape":"stroke","filled":false,"stroke":"black","strokeWidth":3.4,"opacity":1,"strokeCap":"butt"},
   "encoding":{"size":{"field":"l","type":"quantitative","scale":{"type":"pow","exponent":2,"domain":[0,1],"range":[0,64516]},"legend":null},
   "angle":{"field":"a","type":"quantitative","scale":{"domain":[0,180],"range":[180,0]},"legend":null}}},
  {"transform":[{"filter":"datum.k === 'n'"}],"mark":{"type":"point","shape":"circle","filled":false,"stroke":"black","strokeWidth":2.6,"opacity":1,"size":64516}},
  {"transform":[{"filter":"isValid(datum.ratio)"}],"mark":{"type":"text","align":"right","baseline":"alphabetic","fontSize":26,"color":"black"},"encoding":{"text":{"field":"ratio"},"x":{"datum":1.05,"type":"quantitative"},"y":{"datum":-1.0,"type":"quantitative"}}},
  {"transform":[{"filter":"isValid(datum.t90)"}],"mark":{"type":"text","align":"center","baseline":"alphabetic","fontSize":21,"fontStyle":"italic","color":"black"},"encoding":{"text":{"field":"t90"},"x":{"datum":0.05,"type":"quantitative"},"y":{"datum":1.04,"type":"quantitative"}}},
  {"transform":[{"filter":"isValid(datum.t0)"}],"mark":{"type":"text","align":"left","baseline":"middle","fontSize":21,"fontStyle":"italic","color":"black"},"encoding":{"text":{"field":"t0"},"x":{"datum":1.08,"type":"quantitative"},"y":{"datum":0.02,"type":"quantitative"}}},
  {"transform":[{"filter":"datum.k === 'n'"}],"mark":{"type":"text","align":"center","baseline":"middle","angle":270,"fontSize":37,"color":"black"},"encoding":{"text":{"field":"row"},"x":{"datum":-1.28,"type":"quantitative"},"y":{"datum":0,"type":"quantitative"}}},
  {"transform":[{"filter":"datum.k === 'n' && datum.row === '100% Qz'"}],"mark":{"type":"text","align":"center","baseline":"top","fontSize":38,"color":"black"},"encoding":{"text":{"field":"col"},"x":{"datum":0.01,"type":"quantitative"},"y":{"datum":1.496,"type":"quantitative"}}}
 ]
}
},
{
"transform":[{"filter":"datum.col === 'Low Strain'"}],
"facet":{"row":{"field":"row","type":"nominal","title":null,"sort":["100% Qz","5% Ms","10% Ms","25% Ms"],"header":{"labels":false}}},
"bounds":"flush",
"spacing":{"row":24},
"spec":{
 "width":267,"height":254,
 "encoding":{
  "x":{"datum":0,"type":"quantitative","scale":{"domain":[-1,1.1024],"nice":false,"zero":false},"axis":null},
  "y":{"datum":0,"type":"quantitative","scale":{"domain":[-1,1],"nice":false,"zero":false},"axis":null}
 },
 "layer":[
  {"transform":[{"filter":"datum.k === 'n'"}],"mark":{"type":"rule","stroke":"black","strokeWidth":1},"encoding":{"y":{"datum":-1,"type":"quantitative"},"y2":{"datum":1}}},
  {"transform":[{"filter":"datum.k === 'n'"}],"mark":{"type":"rule","stroke":"black","strokeWidth":1},"encoding":{"x":{"datum":-1,"type":"quantitative"},"x2":{"datum":1}}},
  {"transform":[{"filter":"datum.k === 's'"}],"mark":{"type":"point","shape":"stroke","filled":false,"stroke":"black","strokeWidth":3.4,"opacity":1,"strokeCap":"butt"},
   "encoding":{"size":{"field":"l","type":"quantitative","scale":{"type":"pow","exponent":2,"domain":[0,1],"range":[0,64516]},"legend":null},
   "angle":{"field":"a","type":"quantitative","scale":{"domain":[0,180],"range":[180,0]},"legend":null}}},
  {"transform":[{"filter":"datum.k === 'n'"}],"mark":{"type":"point","shape":"stroke","filled":false,"stroke":"#ee1c1c","strokeWidth":3.6,"opacity":1,"strokeCap":"butt","size":64516},
   "encoding":{"angle":{"field":"mean","type":"quantitative","scale":{"domain":[0,180],"range":[180,0]},"legend":null}}},
  {"transform":[{"filter":"datum.k === 'n'"}],"mark":{"type":"point","shape":"circle","filled":false,"stroke":"black","strokeWidth":2.6,"opacity":1,"size":64516}},
  {"transform":[{"filter":"isValid(datum.blue)"}],"mark":{"type":"text","align":"left","baseline":"alphabetic","fontSize":26,"color":"#2233dd"},"encoding":{"text":{"field":"blue"},"x":{"datum":-0.86,"type":"quantitative"},"y":{"datum":0.85,"type":"quantitative"}}},
  {"transform":[{"filter":"isValid(datum.red)"}],"mark":{"type":"text","align":"right","baseline":"alphabetic","fontSize":26,"color":"#ee1c1c"},"encoding":{"text":{"field":"red"},"x":{"datum":1.02,"type":"quantitative"},"y":{"datum":0.85,"type":"quantitative"}}},
  {"transform":[{"filter":"isValid(datum.ratio)"}],"mark":{"type":"text","align":"right","baseline":"alphabetic","fontSize":26,"color":"black"},"encoding":{"text":{"field":"ratio"},"x":{"datum":0.95,"type":"quantitative"},"y":{"datum":-1.0,"type":"quantitative"}}},
  {"transform":[{"filter":"datum.k === 'n' && datum.row === '100% Qz'"}],"mark":{"type":"text","align":"center","baseline":"top","fontSize":38,"color":"black"},"encoding":{"text":{"field":"col"},"x":{"datum":0.05,"type":"quantitative"},"y":{"datum":1.496,"type":"quantitative"}}}
 ]
}
},
{
"transform":[{"filter":"datum.col === 'High Strain'"}],
"facet":{"row":{"field":"row","type":"nominal","title":null,"sort":["100% Qz","5% Ms","10% Ms","25% Ms"],"header":{"labels":false}}},
"bounds":"flush",
"spacing":{"row":24},
"spec":{
 "width":254,"height":254,
 "encoding":{
  "x":{"datum":0,"type":"quantitative","scale":{"domain":[-1,1],"nice":false,"zero":false},"axis":null},
  "y":{"datum":0,"type":"quantitative","scale":{"domain":[-1,1],"nice":false,"zero":false},"axis":null}
 },
 "layer":[
  {"transform":[{"filter":"datum.k === 'n'"}],"mark":{"type":"rule","stroke":"black","strokeWidth":1},"encoding":{"y":{"datum":-1,"type":"quantitative"},"y2":{"datum":1}}},
  {"transform":[{"filter":"datum.k === 'n'"}],"mark":{"type":"rule","stroke":"black","strokeWidth":1},"encoding":{"x":{"datum":-1,"type":"quantitative"},"x2":{"datum":1}}},
  {"transform":[{"filter":"datum.k === 's'"}],"mark":{"type":"point","shape":"stroke","filled":false,"stroke":"black","strokeWidth":3.4,"opacity":1,"strokeCap":"butt"},
   "encoding":{"size":{"field":"l","type":"quantitative","scale":{"type":"pow","exponent":2,"domain":[0,1],"range":[0,64516]},"legend":null},
   "angle":{"field":"a","type":"quantitative","scale":{"domain":[0,180],"range":[180,0]},"legend":null}}},
  {"transform":[{"filter":"datum.k === 'n'"}],"mark":{"type":"point","shape":"stroke","filled":false,"stroke":"#ee1c1c","strokeWidth":3.6,"opacity":1,"strokeCap":"butt","size":64516},
   "encoding":{"angle":{"field":"mean","type":"quantitative","scale":{"domain":[0,180],"range":[180,0]},"legend":null}}},
  {"transform":[{"filter":"datum.k === 'n'"}],"mark":{"type":"point","shape":"circle","filled":false,"stroke":"black","strokeWidth":2.6,"opacity":1,"size":64516}},
  {"transform":[{"filter":"isValid(datum.blue)"}],"mark":{"type":"text","align":"left","baseline":"alphabetic","fontSize":26,"color":"#2233dd"},"encoding":{"text":{"field":"blue"},"x":{"datum":-0.82,"type":"quantitative"},"y":{"datum":0.85,"type":"quantitative"}}},
  {"transform":[{"filter":"isValid(datum.red)"}],"mark":{"type":"text","align":"right","baseline":"alphabetic","fontSize":26,"color":"#ee1c1c"},"encoding":{"text":{"field":"red"},"x":{"datum":1.02,"type":"quantitative"},"y":{"datum":0.85,"type":"quantitative"}}},
  {"transform":[{"filter":"isValid(datum.ratio)"}],"mark":{"type":"text","align":"right","baseline":"alphabetic","fontSize":26,"color":"black"},"encoding":{"text":{"field":"ratio"},"x":{"datum":0.98,"type":"quantitative"},"y":{"datum":-1.0,"type":"quantitative"}}},
  {"transform":[{"filter":"datum.k === 'n' && datum.row === '100% Qz'"}],"mark":{"type":"text","align":"center","baseline":"top","fontSize":38,"color":"black"},"encoding":{"text":{"field":"col"},"x":{"datum":0.08,"type":"quantitative"},"y":{"datum":1.496,"type":"quantitative"}}}
 ]
}
}
]
}
